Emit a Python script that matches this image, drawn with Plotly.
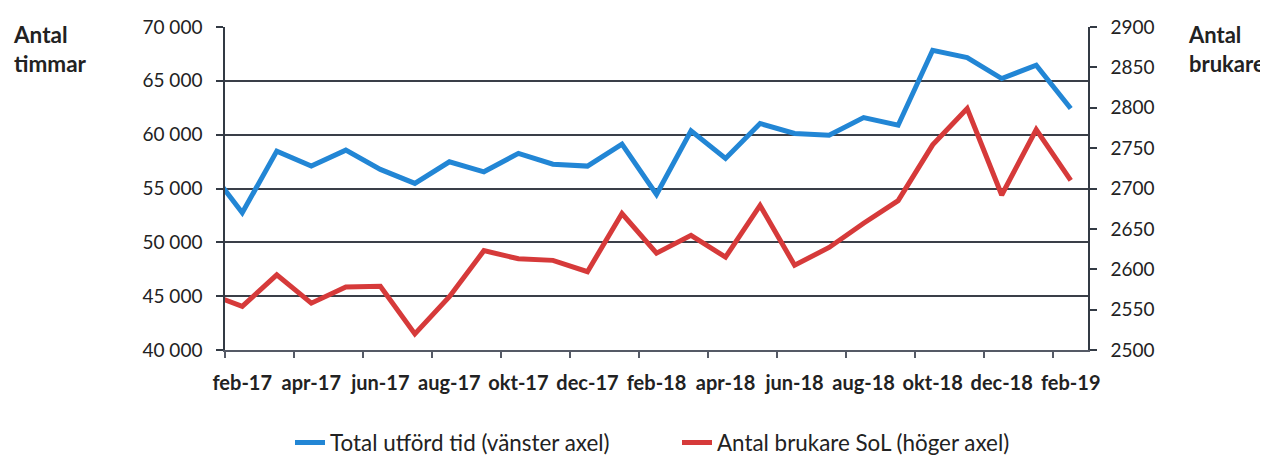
import plotly.graph_objects as go

months = ["jan-17", "feb-17", "mar-17", "apr-17", "maj-17", "jun-17", "jul-17", "aug-17",
          "sep-17", "okt-17", "nov-17", "dec-17", "jan-18", "feb-18", "mar-18", "apr-18",
          "maj-18", "jun-18", "jul-18", "aug-18", "sep-18", "okt-18", "nov-18", "dec-18",
          "jan-19", "feb-19"]
timmar = [56950, 52750, 58470, 57080, 58560, 56770, 55470, 57480, 56550, 58260, 57260, 57080,
          59120, 54450, 60350, 57790, 61040, 60110, 59950, 61590, 60880, 67840, 67160, 65210,
          66450, 62430]
brukare = [2570, 2554, 2593, 2558, 2578, 2579, 2520, 2566, 2623, 2613, 2611, 2597,
           2669, 2620, 2642, 2615, 2679, 2605, 2627, 2657, 2685, 2754, 2799, 2692,
           2773, 2710]
label_months = months[1::2]
left_ticks = [40000, 45000, 50000, 55000, 60000, 65000, 70000]
left_text = ["40 000", "45 000", "50 000", "55 000", "60 000", "65 000", "70 000"]

xpos = list(range(len(months)))
label_pos = xpos[1::2]
boundary_pos = [p - 0.5 for p in label_pos]

font = "Lato, 'Open Sans', sans-serif"
axis_col = "#333a44"

fig = go.Figure()
fig.add_trace(go.Scatter(x=xpos, y=timmar, mode="lines", name="Total utförd tid (vänster axel)",
                         line=dict(color="#2286D5", width=5), yaxis="y"))
fig.add_trace(go.Scatter(x=xpos, y=brukare, mode="lines", name="Antal brukare SoL (höger axel)",
                         line=dict(color="#D63A3A", width=5), yaxis="y2"))

# page has an 8px body margin, so the figure is offset by 8px
fig.update_layout(
    width=1260, height=447,
    margin=dict(l=217, r=180, t=19, b=105, autoexpand=False),
    paper_bgcolor="white", plot_bgcolor="white",
    font=dict(family=font, size=19, color="#222"),
    xaxis=dict(range=[0.5, 25.5], tickvals=label_pos, ticktext=label_months,
               ticks="", showgrid=False, zeroline=False,
               showline=True, linecolor="#555a66", linewidth=1.5,
               ticklabelstandoff=14,
               tickfont=dict(family=font, size=20, color="#222", weight="bold"),
               minor=dict(tickvals=boundary_pos, ticks="outside", ticklen=6,
                          tickcolor="#555a66", tickwidth=1.5, showgrid=False)),
    yaxis=dict(range=[40000, 70000], tickvals=left_ticks, ticktext=left_text,
               ticks="outside", ticklen=7, tickcolor=axis_col, tickwidth=1.5,
               showgrid=True, gridcolor="#3a3f48", gridwidth=1.5, zeroline=False,
               showline=True, linecolor=axis_col, linewidth=1.5,
               ticklabelstandoff=10, tickfont=dict(family=font, size=19, color="#222")),
    yaxis2=dict(range=[2500, 2900], dtick=50, overlaying="y", side="right",
                ticks="outside", ticklen=7, tickcolor=axis_col, tickwidth=1.5,
                showgrid=False, zeroline=False,
                showline=True, linecolor=axis_col, linewidth=1.5,
                ticklabelstandoff=10, tickfont=dict(family=font, size=19, color="#222")),
    legend=dict(orientation="h", x=(290 - 225) / 863, xanchor="left", y=-0.288, yanchor="middle",
                entrywidth=342, font=dict(family=font, size=22.4, color="#222")),
    annotations=[
        dict(text="<b>Antal<br>timmar</b>", xref="paper", yref="paper", x=-214 / 863,
             xanchor="left", y=1 + 8 / 323, yanchor="top", showarrow=False, align="left",
             font=dict(family=font, size=22.5, color="#222")),
        dict(text="<b>Antal<br>brukare</b>", xref="paper", yref="paper", x=(1186 - 225) / 863,
             xanchor="left", y=1 + 8 / 323, yanchor="top", showarrow=False, align="left",
             font=dict(family=font, size=22, color="#222")),
    ],
)

fig.write_html("out.html")
